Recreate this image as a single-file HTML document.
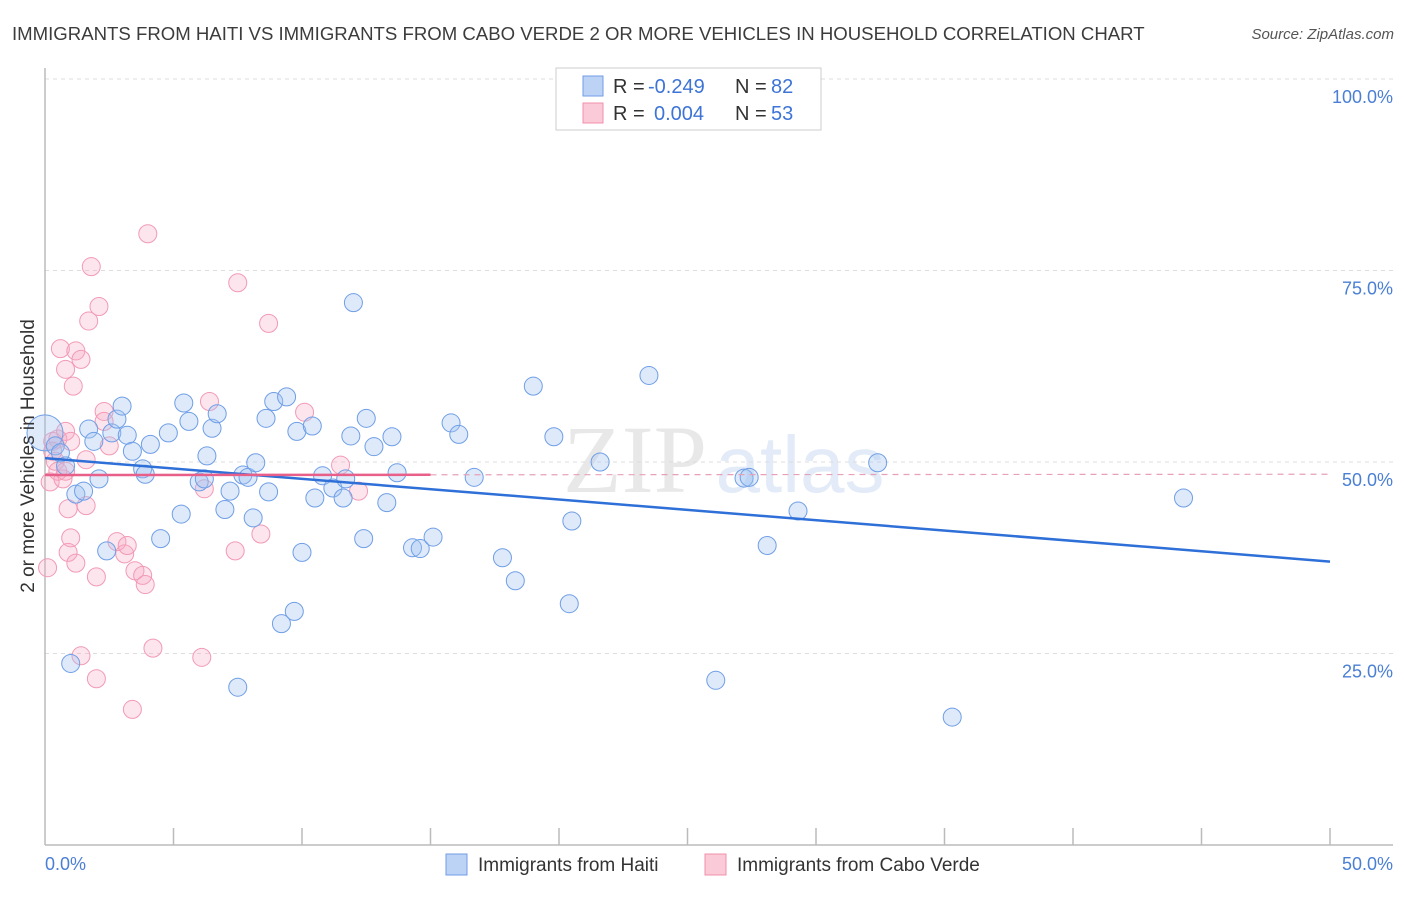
<!DOCTYPE html>
<html><head><meta charset="utf-8"><style>
body{margin:0;background:#fff;font-family:"Liberation Sans",sans-serif;}
</style></head><body>
<svg width="1406" height="892" xmlns="http://www.w3.org/2000/svg" font-family="Liberation Sans, sans-serif">
<text x="12" y="40" font-size="18.6" fill="#3c3c3c">IMMIGRANTS FROM HAITI VS IMMIGRANTS FROM CABO VERDE 2 OR MORE VEHICLES IN HOUSEHOLD CORRELATION CHART</text>
<text x="1394" y="39" font-size="15" fill="#555" text-anchor="end" font-style="italic">Source: ZipAtlas.com</text>
<text x="635" y="492" font-size="96" fill="#e8e8e8" font-family="Liberation Serif, serif" text-anchor="middle">ZIP</text>
<text x="800" y="492" font-size="80" fill="#e2ebf7" text-anchor="middle">atlas</text>
<g id="grid"></g>
<g id="axes"></g>
<g id="marks"></g>
<text transform="translate(34,456) rotate(-90)" font-size="19" fill="#333" text-anchor="middle">2 or more Vehicles in Household</text>
<g>
<rect x="556" y="68" width="265" height="62" fill="#fff" stroke="#ccc"/>
<rect x="583" y="76" width="20" height="20" fill="#bcd3f5" stroke="#6f9ee6"/>
<rect x="583" y="103" width="20" height="20" fill="#fbcad8" stroke="#f090ad"/>
<text x="613" y="93" font-size="20" fill="#333">R =</text>
<text x="648" y="93" font-size="20" fill="#3d74d6">-0.249</text>
<text x="735" y="93" font-size="20" fill="#333">N =</text>
<text x="771" y="93" font-size="20" fill="#3d74d6">82</text>
<text x="613" y="120" font-size="20" fill="#333">R =</text>
<text x="654" y="120" font-size="20" fill="#3d74d6">0.004</text>
<text x="735" y="120" font-size="20" fill="#333">N =</text>
<text x="771" y="120" font-size="20" fill="#3d74d6">53</text>
</g>
<g>
<rect x="446" y="854" width="21" height="21" fill="#bcd3f5" stroke="#6f9ee6"/>
<text x="478" y="871" font-size="19" fill="#333">Immigrants from Haiti</text>
<rect x="705" y="854" width="21" height="21" fill="#fbcad8" stroke="#f090ad"/>
<text x="737" y="871" font-size="19" fill="#333">Immigrants from Cabo Verde</text>
</g>
<text x="45" y="870" font-size="18" fill="#4a7fd4">0.0%</text>
<text x="1393" y="870" font-size="18" fill="#4a7fd4" text-anchor="end">50.0%</text>
</svg>
<script>
const yTicks=[100,75,50,25];
const yTickLabels=["100.0%","75.0%","50.0%","25.0%"];
const haitiX=[0,0.4,0.6,0.8,1.0,1.2,1.5,1.7,1.9,2.1,2.4,2.6,2.8,3.0,3.2,3.4,3.8,3.9,4.1,4.5,4.8,5.3,5.4,5.6,6.0,6.2,6.3,6.5,6.7,7.0,7.2,7.5,7.7,7.9,8.1,8.2,8.6,8.7,8.9,9.2,9.4,9.8,10.0,10.4,9.7,10.5,10.8,11.2,11.6,11.7,11.9,12.0,12.4,12.5,12.8,13.3,13.5,13.7,14.3,14.6,15.1,15.8,16.1,16.7,17.8,18.3,19.0,19.8,20.4,20.5,21.6,23.5,26.1,27.2,27.4,28.1,29.3,32.4,35.3,44.3];
const haitiY=[53.8,52.1,51.2,49.5,23.7,45.8,46.2,54.3,52.7,47.8,38.4,53.8,55.6,57.3,53.5,51.4,49.1,48.4,52.3,40.0,53.8,43.2,57.7,55.3,47.4,47.8,50.8,54.4,56.3,43.8,46.2,20.6,48.3,48.0,42.7,49.9,55.7,46.1,57.9,28.9,58.5,54.0,38.2,54.7,30.5,45.3,48.2,46.6,45.3,47.8,53.4,70.8,40.0,55.7,52.0,44.7,53.3,48.6,38.8,38.7,40.2,55.1,53.6,48.0,37.5,34.5,59.9,53.3,31.5,42.3,50.0,61.3,21.5,47.9,48.0,39.1,43.6,49.9,16.7,45.3];
const caboX=[0.1,0.2,0.3,0.4,0.5,0.7,0.8,0.9,0.9,1.0,0.6,0.8,1.1,1.2,1.4,1.2,1.7,1.8,2.1,2.0,1.6,1.6,1.4,2.0,2.3,2.3,2.5,2.8,3.1,3.2,3.4,3.5,3.8,3.9,4.0,4.2,6.1,6.2,6.4,7.4,7.5,8.4,8.7,10.1,11.5,12.2,1.0,0.5,0.3,0.8];
const caboY=[36.2,47.4,52.7,50.1,53.0,47.8,54.0,43.9,38.2,40.1,64.8,62.1,59.9,64.5,63.4,36.8,68.4,75.5,70.3,35.0,44.3,50.3,24.7,21.7,56.6,55.3,52.1,39.6,38.0,39.1,17.7,35.8,35.2,34.0,79.8,25.7,24.5,46.5,57.9,38.4,73.4,40.6,68.1,56.5,49.6,46.2,52.7,48.8,51.4,48.8];
const haitiTrend=[50.5,37.0];
const caboTrend=[48.3,48.4];
const NS="http://www.w3.org/2000/svg";
const X0=45,X1=1330,Y0=845,Y100=79;
const xs=v=>X0+(X1-X0)*v/50;
const ys=v=>Y0-(Y0-Y100)*v/100;
function mk(tag,attrs,parent){const e=document.createElementNS(NS,tag);for(const k in attrs)e.setAttribute(k,attrs[k]);parent.appendChild(e);return e;}
const grid=document.getElementById('grid'),axes=document.getElementById('axes'),marks=document.getElementById('marks');
yTicks.forEach((t,i)=>{
 const l=mk('line',{x1:X0,x2:1393,y1:ys(t),y2:ys(t),stroke:'#ddd','stroke-dasharray':'4,4'},grid);
 
 
 const tx=mk('text',{x:1393,y:ys(t)+24,'font-size':18,fill:'#4a7fd4','text-anchor':'end'},axes);
 tx.textContent=yTickLabels[i];
 
 
});
const ya=mk('line',{x1:X0,x2:X0,y1:68,y2:Y0,stroke:'#bbb','stroke-width':1.5},axes);


const xa=mk('line',{x1:X0,x2:1393,y1:Y0,y2:Y0,stroke:'#bbb','stroke-width':1.5},axes);


for(let v=5;v<=50;v+=5){const t=mk('line',{x1:xs(v),x2:xs(v),y1:828,y2:Y0,stroke:'#bbb','stroke-width':1.5},axes);
 
 }
caboX.forEach((x,i)=>{const c=mk('circle',{cx:xs(x),cy:ys(caboY[i]),r:9,fill:'rgba(248,170,195,0.3)',stroke:'#f29ab5','stroke-width':1},marks);
 
 });
haitiX.forEach((x,i)=>{const c=mk('circle',{cx:xs(x),cy:ys(haitiY[i]),r:i==0?18:9,fill:'rgba(160,195,240,0.35)',stroke:'#6f9ee6','stroke-width':1},marks);
 
 });
const ht=mk('line',{x1:xs(0),y1:ys(haitiTrend[0]),x2:xs(50),y2:ys(haitiTrend[1]),stroke:'#2e6fd8','stroke-width':2.5},marks);


const mid=caboTrend[0]+(caboTrend[1]-caboTrend[0])*15/50;
const ct=mk('line',{x1:xs(0),y1:ys(caboTrend[0]),x2:xs(15),y2:ys(mid),stroke:'#e8608a','stroke-width':2.5},marks);


const cd=mk('line',{x1:xs(15),y1:ys(mid),x2:xs(50),y2:ys(caboTrend[1]),stroke:'#e8a0b6','stroke-width':1.2,'stroke-dasharray':'6,5'},marks);


</script>
</body></html>
